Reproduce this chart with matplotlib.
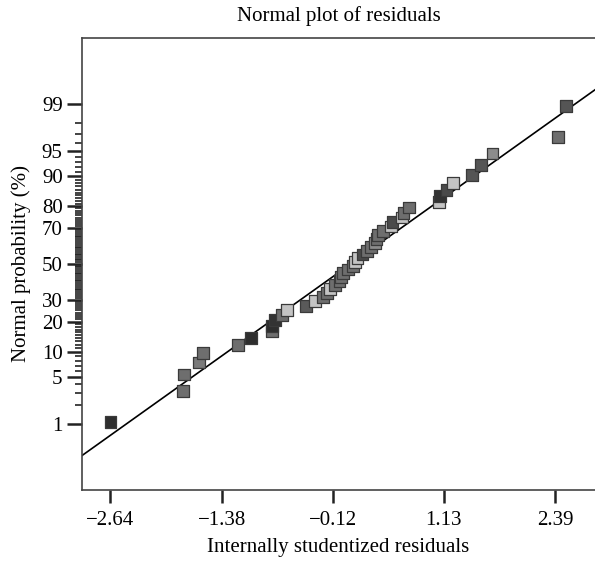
from statistics import NormalDist

import matplotlib
matplotlib.use("Agg")
import matplotlib.pyplot as plt
import numpy as np

# Residuals (sorted) and their normal probability (%)
residuals = [-2.64, -1.82, -1.81, -1.64, -1.59, -1.20, -1.05, -0.81, -0.81, -0.78,
             -0.70, -0.645, -0.43, -0.33, -0.24, -0.19, -0.16, -0.10, -0.05, -0.035,
             -0.01, 0.05, 0.10, 0.13, 0.155, 0.21, 0.26, 0.31, 0.35, 0.37,
             0.39, 0.44, 0.53, 0.55, 0.66, 0.675, 0.74, 1.08, 1.09, 1.16,
             1.23, 1.45, 1.55, 1.68, 2.42, 2.51]
prob_pct = [1.09, 3.26, 5.43, 7.61, 9.78, 11.96, 14.13, 16.30, 18.48, 20.65,
            22.83, 25.00, 27.17, 29.35, 31.52, 33.70, 35.87, 38.04, 40.22, 42.39,
            44.57, 46.74, 48.91, 51.09, 53.26, 55.43, 57.61, 59.78, 61.96, 64.13,
            66.30, 68.48, 70.65, 72.83, 75.00, 77.17, 79.35, 81.52, 83.70, 85.87,
            88.04, 90.22, 92.39, 94.57, 96.74, 98.91]
shades = ["#2e2e2e", "#6e6e6e", "#6e6e6e", "#7a7a7a", "#6e6e6e", "#6e6e6e", "#2e2e2e", "#6e6e6e", "#2e2e2e", "#333333",
          "#6e6e6e", "#c4c4c4", "#5a5a5a", "#c4c4c4", "#6e6e6e", "#6e6e6e", "#c4c4c4", "#6e6e6e", "#6e6e6e", "#6e6e6e",
          "#6e6e6e", "#6e6e6e", "#6e6e6e", "#c4c4c4", "#c4c4c4", "#4a4a4a", "#6e6e6e", "#6e6e6e", "#8c8c8c", "#6e6e6e",
          "#6e6e6e", "#6e6e6e", "#c4c4c4", "#4a4a4a", "#c4c4c4", "#6e6e6e", "#6e6e6e", "#c4c4c4", "#333333", "#4a4a4a",
          "#c4c4c4", "#555555", "#555555", "#8c8c8c", "#6e6e6e", "#555555"]

# fitted reference line (residual, probability %)
line_x = [-2.96, 2.84]
line_p = [0.27, 99.43]

x_ticks = [-2.64, -1.38, -0.12, 1.13, 2.39]
y_ticks = [1, 5, 10, 20, 30, 50, 70, 80, 90, 95, 99]

nd = NormalDist()


def to_z(p):
    p = np.clip(np.asarray(p, dtype=float) / 100.0, 1e-12, 1 - 1e-12)
    return np.vectorize(nd.inv_cdf)(p) if p.size else p


def to_p(z):
    z = np.asarray(z, dtype=float)
    return np.vectorize(nd.cdf)(z) * 100.0 if z.size else z


plt.rcParams["font.family"] = ["Liberation Serif", "DejaVu Serif"]

fig = plt.figure(figsize=(5.95, 5.61), dpi=100)
ax = fig.add_axes([0.138, 0.127, 0.862, 0.805])
ax.set_yscale("function", functions=(to_z, to_p))

ax.plot(line_x, line_p, color="black", lw=1.2, zorder=2)
ax.scatter(residuals, prob_pct, marker="s", s=72, c=shades,
           edgecolors="#3a3a3a", linewidths=0.9, zorder=3)

ax.set_xlim(-2.96, 2.84)
ax.set_ylim(float(to_p(-3.28)), float(to_p(3.28)))

ax.set_xticks(x_ticks)
ax.set_xticklabels([f"{t:.2f}".replace("-", "\u2212") for t in x_ticks])
ax.set_yticks(y_ticks)
ax.set_yticklabels([str(t) for t in y_ticks])
ax.set_yticks([v for v in range(1, 100) if v not in y_ticks], minor=True)
ax.xaxis.set_minor_locator(matplotlib.ticker.NullLocator())

ax.tick_params(axis="x", which="major", direction="out", length=9,
               width=1.8, color="#222222", labelsize=15, pad=6)
ax.tick_params(axis="y", which="major", direction="out", length=11,
               width=1.8, color="#222222", labelsize=15, pad=3)
ax.tick_params(axis="y", which="minor", direction="out", length=5,
               width=1.2, color="#222222")

for side in ["left", "bottom", "top"]:
    ax.spines[side].set_color("#444444")
    ax.spines[side].set_linewidth(1.2)
ax.spines["right"].set_visible(False)

ax.set_title("Normal plot of residuals", fontsize=15, pad=12)
ax.set_xlabel("Internally studentized residuals", fontsize=15, labelpad=6)
ax.set_ylabel("Normal probability (%)", fontsize=15, labelpad=8)

fig.savefig("out.png", dpi=100)
